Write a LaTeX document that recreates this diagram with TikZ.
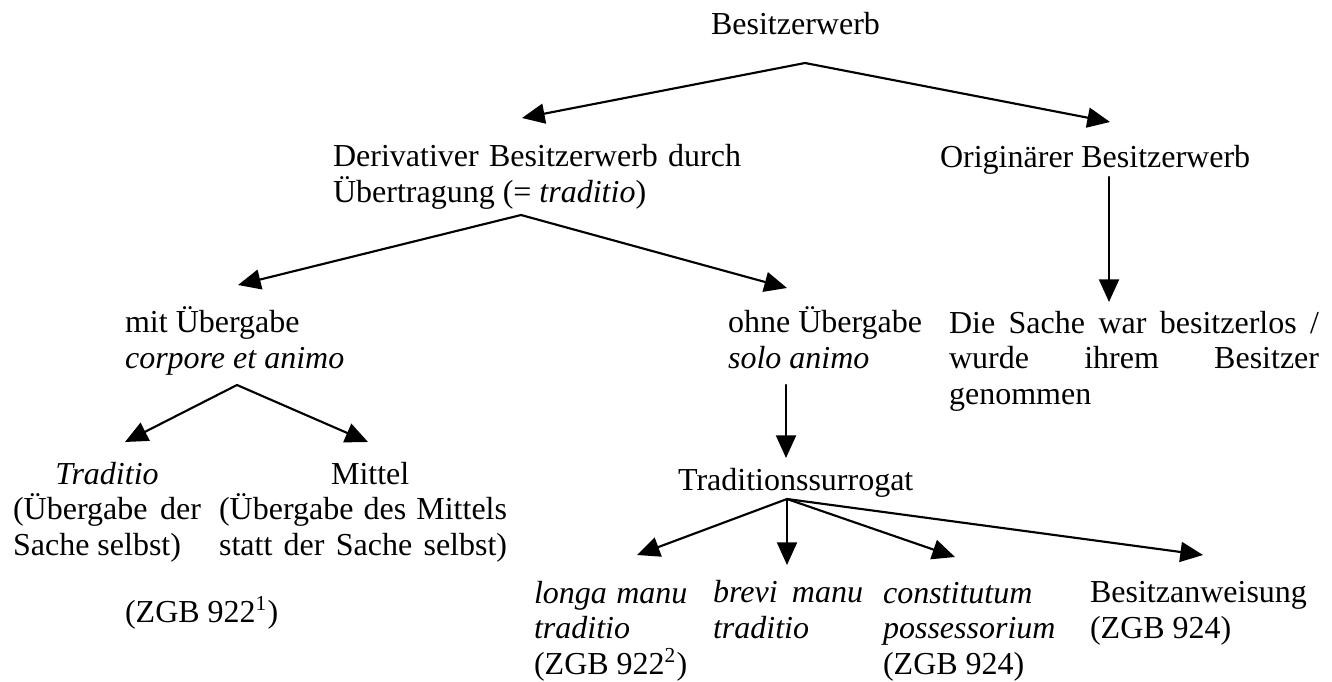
\documentclass[tikz,border=0pt]{standalone}
\usepackage{fontspec}
\setmainfont{Liberation Serif}
\usetikzlibrary{arrows.meta}
\newcommand{\jline}[2]{\makebox[#1][s]{#2}}
\begin{document}
\begin{tikzpicture}[line join=round, line cap=round,>={Triangle[length=8.5pt,width=7.5pt]},line width=0.8pt,x=0.375pt,y=-0.375pt]
	\tikzset{txt/.style={anchor=base west,align=left,inner sep=0pt,font=\fontsize{12}{13.4}\selectfont}}
	\useasboundingbox (0,0) rectangle (1332,681);
	% texts (base = baseline of the last line)
	\node[txt] (root) at (710,35) {Besitzerwerb};
	\node[txt] (deriv) at (332,202.7) {\jline{153pt}{Derivativer Besitzerwerb durch}\\Übertragung (= \textit{traditio})};
	\node[txt] (orig) at (939,167) {Originärer Besitzerwerb};
	\node[txt] (mit) at (124,368.7) {mit Übergabe\\\textit{corpore et animo}};
	\node[txt] (ohne) at (727,368.7) {ohne Übergabe\\\textit{solo animo}};
	\node[txt] (los) at (948,404.5) {\jline{138.75pt}{Die Sache war besitzerlos /}\\\jline{138.75pt}{wurde ihrem Besitzer}\\genommen};
	\node[txt] (trad) at (12,555.5) {\makebox[70.5pt]{\textit{Traditio}}\\\jline{70.5pt}{(Übergabe der}\\Sache selbst)};
	\node[txt] (mittel) at (218,555.5) {\hspace*{42pt}Mittel\\\jline{108pt}{(Übergabe des Mittels}\\\jline{108pt}{statt der Sache selbst)}};
	\node[txt] (zgb1) at (124,622) {(ZGB 922\textsuperscript{1})};
	\node[txt] (surr) at (677,490) {Traditionssurrogat};
	\node[txt] (longa) at (533,674.5) {\jline{57.5pt}{\textit{longa manu}}\\\textit{traditio}\\(ZGB 922\textsuperscript{2})};
	\node[txt] (brevi) at (712,638.7) {\jline{56.25pt}{\textit{brevi manu}}\\\textit{traditio}};
	\node[txt] (const) at (882,674.5) {\textit{constitutum}\\\textit{possessorium}\\(ZGB 924)};
	\node[txt] (anw) at (1089,638.7) {Besitzanweisung\\(ZGB 924)};
	% branch points and arrow ends
	\coordinate (s1) at (805,63);
	\coordinate (s2) at (521,215);
	\coordinate (s3) at (237,385);
	\coordinate (s4) at (787,499);
	\coordinate (o1) at (1109,177);
	\coordinate (o2) at (786,385);
	\coordinate (e1) at (522,118);
	\coordinate (e2) at (1110,122);
	\coordinate (e3) at (238,285);
	\coordinate (e4) at (787,288);
	\coordinate (e5) at (1109,302);
	\coordinate (e6) at (125,442);
	\coordinate (e7) at (368,442);
	\coordinate (e8) at (786,458);
	\coordinate (e9) at (637,555);
	\coordinate (e10) at (787,565);
	\coordinate (e11) at (955,557);
	\coordinate (e12) at (1203,555);
	\draw[->] (s1) -- (e1);
	\draw[->] (s1) -- (e2);
	\draw[->] (s2) -- (e3);
	\draw[->] (s2) -- (e4);
	\draw[->] (o1) -- (e5);
	\draw[->] (s3) -- (e6);
	\draw[->] (s3) -- (e7);
	\draw[->] (o2) -- (e8);
	\foreach \e in {e9,e10,e11,e12}
		\draw[->] (s4) -- (\e);
\end{tikzpicture}
\end{document}
